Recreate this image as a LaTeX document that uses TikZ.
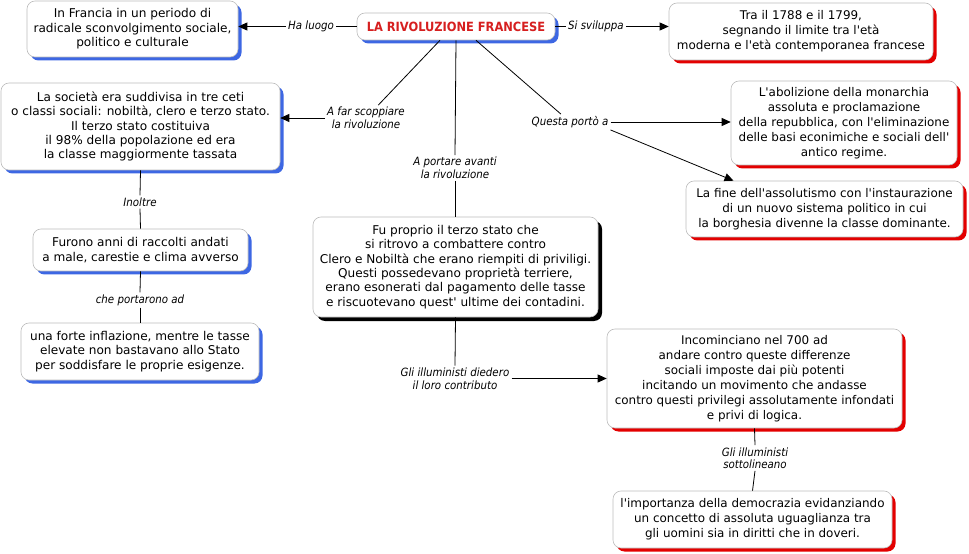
\documentclass[tikz,border=0pt]{standalone}
\usepackage{fontspec}
\setmainfont{DejaVu Sans}[Ligatures=TeXOff]
\newfontfamily\narrow{DejaVu Sans Condensed}
\usetikzlibrary{positioning, arrows.meta, shadows}
\definecolor{shblue}{HTML}{3D67E3}
\definecolor{shred}{HTML}{E30000}
\definecolor{titlered}{HTML}{D61F1F}
\definecolor{boxline}{HTML}{BDBDBD}
\tikzset{
	>={Triangle[length=9bp,width=8bp]}, % bold arrow heads
	concept/.style={draw=boxline, line width=0.6bp, fill=white, rounded corners=8bp, align=center, inner sep=0pt}, % every box of the map
	bluebox/.style={concept, font=\fontsize{12.1bp}{14.4bp}\selectfont, drop shadow={shadow xshift=3.5bp, shadow yshift=-3.5bp, fill=shblue, opacity=1}},
	redbox/.style={concept, font=\fontsize{11.95bp}{15bp}\selectfont, drop shadow={shadow xshift=3.5bp, shadow yshift=-3.5bp, fill=shred, opacity=1}},
	blackbox/.style={concept, font=\fontsize{12.1bp}{14.4bp}\selectfont, drop shadow={shadow xshift=4bp, shadow yshift=-4bp, fill=black, opacity=1}},
	linklabel/.style={font=\narrow\itshape\fontsize{11.4bp}{12.5bp}\selectfont, align=center, inner sep=2bp}, % text on the connectors
	link/.style={draw, line width=0.8bp},
}

\begin{document}
\begin{tikzpicture}[x=1bp, y=-1bp]
	\useasboundingbox (0,0) rectangle (969,554);
	% boxes
	\node[bluebox, minimum width=198bp, minimum height=27bp, font=\narrow\bfseries\fontsize{12.7bp}{15bp}\selectfont, text=titlered] (rivoluzione) at (456,26.5) {LA RIVOLUZIONE FRANCESE};
	\node[bluebox, minimum width=211bp, minimum height=56bp] (francia) at (132.5,29) {In Francia in un periodo di\\radicale sconvolgimento sociale,\\politico e culturale};
	\node[redbox, minimum width=264bp, minimum height=57bp] (date) at (801,31.5) {Tra il 1788 e il 1799,\\segnando il limite tra l'età\\moderna e l'età contemporanea francese};
	\node[bluebox, minimum width=279bp, minimum height=87bp] (societa) at (140.5,126.5) {La società era suddivisa in tre ceti\\o classi sociali: nobiltà, clero e terzo stato.\\Il terzo stato costituiva\\il 98\% della popolazione ed era\\la classe maggiormente tassata};
	\node[redbox, minimum width=226bp, minimum height=84bp] (abolizione) at (844,123) {L'abolizione della monarchia\\assoluta e proclamazione\\della repubblica, con l'eliminazione\\delle basi econimiche e sociali dell'\\antico regime.};
	\node[redbox, minimum width=277bp, minimum height=56bp] (fine) at (824.5,209) {La fine dell'assolutismo con l'instaurazione\\di un nuovo sistema politico in cui\\la borghesia divenne la classe dominante.};
	\node[bluebox, minimum width=215bp, minimum height=42bp] (raccolti) at (140.5,250) {Furono anni di raccolti andati\\a male, carestie e clima avverso};
	\node[blackbox, minimum width=285bp, minimum height=100bp] (terzo) at (455.5,267) {Fu proprio il terzo stato che\\si ritrovo a combattere contro\\Clero e Nobiltà che erano riempiti di priviligi.\\Questi possedevano proprietà terriere,\\erano esonerati dal pagamento delle tasse\\e riscuotevano quest' ultime dei contadini.};
	\node[bluebox, minimum width=238bp, minimum height=57bp] (inflazione) at (140,351.5) {una forte inflazione, mentre le tasse\\elevate non bastavano allo Stato\\per soddisfare le proprie esigenze.};
	\node[redbox, minimum width=295bp, minimum height=99bp] (illuministi) at (754.5,378.5) {Incominciano nel 700 ad\\andare contro queste differenze\\sociali imposte dai più potenti\\incitando un movimento che andasse\\contro questi privilegi assolutamente infondati\\e privi di logica.};
	\node[redbox, minimum width=279bp, minimum height=57bp] (democrazia) at (752.5,519.5) {l'importanza della democrazia evidanziando\\un concetto di assoluta uguaglianza tra\\gli uomini sia in diritti che in doveri.};
	% labels
	\node[linklabel] (luogo) at (311,26.5) {Ha luogo};
	\node[linklabel] (sviluppa) at (596,26.5) {Si sviluppa};
	\node[linklabel] (scoppiare) at (366,118) {A far scoppiare\\la rivoluzione};
	\node[linklabel] (avanti) at (455,168) {A portare avanti\\la rivoluzione};
	\node[linklabel] (porto) at (570,122) {Questa portò a};
	\node[linklabel] (inoltre) at (140,202) {Inoltre};
	\node[linklabel] (portarono) at (140,300) {che portarono ad};
	\node[linklabel] (contributo) at (455,378.5) {Gli illuministi diedero\\il loro contributo};
	\node[linklabel] (sottolineano) at (755,458) {Gli illuministi\\sottolineano};
	% connectors
	\draw[link] (rivoluzione.west) -- (luogo.east);
	\draw[link, ->] (luogo.west) -- (luogo.west -| francia.east);
	\draw[link] (rivoluzione.east) -- (sviluppa.west);
	\draw[link, ->] (sviluppa.east) -- (sviluppa.east -| date.west);
	\draw[link] ([xshift=-16bp]rivoluzione.south) -- (scoppiare);
	\draw[link, ->] (scoppiare.west) -- (scoppiare.west -| societa.east);
	\draw[link] (rivoluzione.south) -- (avanti.north);
	\draw[link] (avanti.south) -- (avanti.south |- terzo.north);
	\draw[link] ([xshift=20bp]rivoluzione.south) -- (porto);
	\draw[link, ->] (porto.east) -- (porto.east -| abolizione.west);
	\draw[link, ->] (porto.south east) -- ([xshift=-91bp]fine.north);
	\draw[link] (societa.south) -- (inoltre.north);
	\draw[link] (inoltre.south) -- (raccolti.north);
	\draw[link] (raccolti.south) -- (portarono.north);
	\draw[link] (portarono.south) -- (inflazione.north);
	\draw[link] (terzo.south) -- (contributo.north);
	\draw[link, ->] (contributo.east) -- (contributo.east -| illuministi.west);
	\draw[link] (illuministi.south) -- (sottolineano.north);
	\draw[link] (sottolineano.south) -- (democrazia.north);
\end{tikzpicture}
\end{document}
